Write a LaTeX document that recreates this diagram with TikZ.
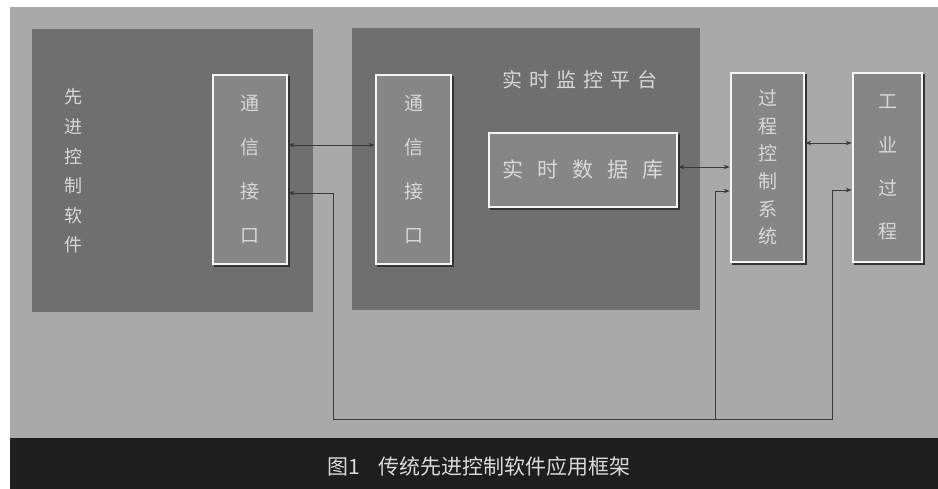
\documentclass[tikz,border=0pt]{standalone}
\usepackage{fontspec}
\newfontfamily\cjk{Noto Sans CJK SC}
\usetikzlibrary{arrows.meta}
\definecolor{bggray}{HTML}{A9A9A9}
\definecolor{panelgray}{HTML}{6F6F6F}
\definecolor{boxgray}{HTML}{868686}
\definecolor{txtgray}{HTML}{D8D8D8}
\definecolor{bandgray}{HTML}{1E1E1E}
\definecolor{linegray}{HTML}{3A3A3A}
\begin{document}
\begin{tikzpicture}[x=1pt,y=-1pt,
  panel/.style={fill=panelgray,draw=none},
  bevel/.style={draw=white!92!gray,line width=2.6pt,fill=boxgray,text=txtgray,
    inner sep=0pt,align=center,
    preaction={draw=black!80,line width=2.6pt,transform canvas={xshift=2pt,yshift=-2pt}}},
  conn/.style={draw=linegray,line width=0.7pt,
    {Stealth[length=6pt,width=4.5pt]}-{Stealth[length=6pt,width=4.5pt]}},
  conn1/.style={draw=linegray,line width=0.7pt,-{Stealth[length=6pt,width=4.5pt]}},
  lbl/.style={text=txtgray,inner sep=0pt,align=center}]
\useasboundingbox (0,0) rectangle (938,489);
\fill[white] (0,0) rectangle (938,489);
\fill[bggray] (10,7) rectangle (938,438);
\fill[bandgray] (10,438) rectangle (938,489);
% panels
\fill[panel] (32,29) rectangle (313,312);
\fill[panel] (352,28) rectangle (700,310);
% left text
\node[lbl,font={\cjk\fontsize{18}{29.6}\selectfont}] (ac) at (73,171)
  {先\\进\\控\\制\\软\\件};
\node[lbl,font={\cjk\fontsize{20}{22}\selectfont}] (rtp) at (580,80)
  {实\hspace{7pt}时\hspace{7pt}监\hspace{7pt}控\hspace{7pt}平\hspace{7pt}台};
% boxes
\node[bevel,minimum width=74pt,minimum height=189pt,font={\cjk\fontsize{19}{44}\selectfont}] (lc) at (250,169.5)
  {通\\信\\接\\口};
\node[bevel,minimum width=75pt,minimum height=189pt,font={\cjk\fontsize{19}{44}\selectfont}] (mc) at (413.5,169.5)
  {通\\信\\接\\口};
\node[bevel,minimum width=188pt,minimum height=74pt,font={\cjk\fontsize{21}{24}\selectfont}] (db) at (583,170)
  {实\hspace{14pt}时\hspace{14pt}数\hspace{14pt}据\hspace{14pt}库};
\node[bevel,minimum width=73pt,minimum height=189pt,font={\cjk\fontsize{19}{27.6}\selectfont}] (pcs) at (767.5,167.5)
  {过\\程\\控\\制\\系\\统};
\node[bevel,minimum width=69pt,minimum height=189pt,font={\cjk\fontsize{19}{43.3}\selectfont}] (ip) at (887.5,167.5)
  {工\\业\\过\\程};
% connectors
\draw[conn] (lc.east |- 0,145) -- (mc.west |- 0,145);
\draw[conn] (db.east |- 0,167) -- (pcs.west |- 0,167);
\draw[conn] (pcs.east |- 0,143) -- (ip.west |- 0,143);
\coordinate (r1) at (333,193);
\coordinate (r2) at (333,419);
\coordinate (r3) at (832,419);
\coordinate (r4) at (832,190);
\coordinate (b1) at (715,419);
\coordinate (b2) at (715,191);
\draw[conn] (lc.east |- r1) -- (r1) -- (r2) -- (r3) -- (r4) -- (ip.west |- r4);
\draw[conn1] (b1) -- (b2) -- (pcs.west |- b2);
% caption
\node[text=txtgray!95!white,inner sep=0pt,font={\cjk\fontsize{21}{24}\selectfont}] (cap) at (479,467)
  {图1\hspace{18pt}传统先进控制软件应用框架};
\end{tikzpicture}
\end{document}
